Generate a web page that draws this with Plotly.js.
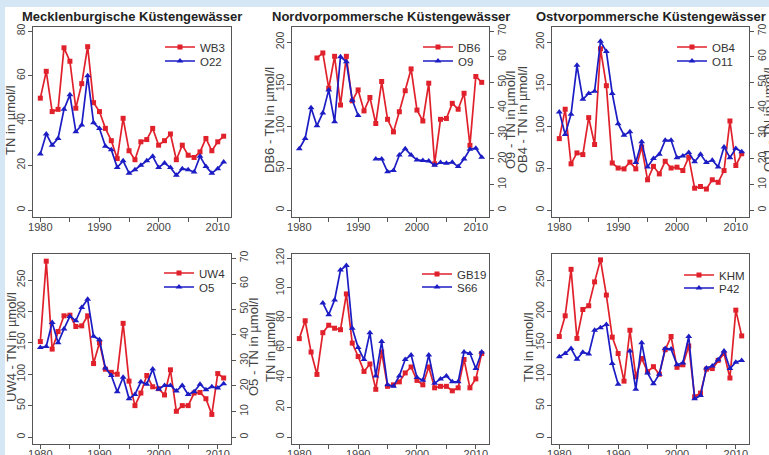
<!DOCTYPE html>
<html>
<head>
<meta charset="utf-8">
<script src="https://cdn.plot.ly/plotly-3.0.1.min.js"></script>
<style>html,body{margin:0;padding:0;background:#fff;}#chart{width:769px;height:455px;}</style>
</head>
<body>
<div id="chart"></div>
<script>
const YEARS = [1980,1981,1982,1983,1984,1985,1986,1987,1988,1989,1990,1991,1992,1993,1994,1995,1996,1997,1998,1999,2000,2001,2002,2003,2004,2005,2006,2007,2008,2009,2010,2011];
const XTICKS = [1980,1985,1990,1995,2000,2005,2010];
const XTICKTEXT = ['1980','','1990','','2000','','2010'];

const PANEL_TITLES = ['Mecklenburgische Küstengewässer','Nordvorpommersche Küstengewässer','Ostvorpommersche Küstengewässer'];

// Panel 1
const WB3 = [50,62,44,45,72.5,66.5,45.5,56.5,73,48,44,36.5,31,23,41,26.5,22.5,30.5,31.5,36.5,29,31,34,22.5,29,24.5,23.5,26,32,26.5,30.5,33];
const O22 = [25,34,29,32,45,51.5,35,38,60,39,36.5,28.5,27,19,22,16.5,18,20,22,24,19,21,19,15.5,18.5,18,17,24,19.5,16.5,18.5,21.5];
// Panel 2
const DB6 = [null,null,null,181,187,145,183,125,183,130,143,118,134,103,153,108,93,117,142,168,119,106,151,55,108,109,127,120,139,77,159,152];
const O9  = [24,28,40,33,38,47,34.5,60,58,43,37,null,null,20,20,15,15.5,21.5,24,21.5,19.6,19.4,19.2,17.5,18.6,18.3,18.7,17,20,23.8,24.2,20.7];
// Panel 3
const OB4 = [85,120,55,68,66,110,78,192,148,56,50,49,57,49,75,36,52,43,58,50,51,47,63,26,28,25,36,33,47,106,53,67];
const O11 = [38.4,29.6,37.5,56.6,43.3,45.6,46.5,66,62,45.6,33.8,29.3,30.6,18.6,26.7,16.9,20.2,21.8,27.3,27.3,20.5,21.2,22.5,18.9,21.8,18.6,19.5,16.9,24.7,20.5,24.1,22.8];
// Panel 4
const UW4 = [152,280,140,168,193,194,176,177,193,117,150,108,103,100,181,89,50,70,98,80,77,67,107,41,50,50,70,71,61,36,101,94];
const O5  = [35,35.4,44.8,36.9,42.3,47.2,45.5,50.7,53.9,39.4,38.1,27,24.1,17.7,23.4,15,16.7,21.6,20.7,26.6,18.7,20.2,20.2,18,20.2,16.7,17.7,20.7,18.5,19.7,19.2,20.9];
// Panel 5
const GB19 = [66,78,57,42,70,75,73,72,96,63,54,44,49,32,57,34,35,37,43,47,38,35,47,33,34,34,31,33,52,33,39,56];
const S66  = [null,null,null,null,90,82,92,112,115,73,60,52,70,41,64,35,34,41,52,55,40,38,55,36,39,41,37,37,57,56,46,57];
// Panel 6
const KHM = [160,193,267,157,203,209,247,282,226,159,133,89,170,96,125,104,112,100,139,160,111,115,145,64,70,108,109,122,133,94,202,161];
const P42 = [128,133,141,124,135,132,170,174,179,117,84,null,137,76,150,102,85,100,141,140,115,118,160,61,66,110,113,123,137,109,119,122];

const RED = '#e0202a', BLUE = '#1c1cc4';
const W = 769, H = 455;
const px = v => v / W, py = v => 1 - v / H;

const cols = [[33,231],[292,489],[552,749]];
const rows = [[27,217],[254,444]];

const FONT = 'Liberation Sans, Arial, sans-serif';
const traces = [];
const layout = {
  width: W, height: H, margin: {l:0,r:0,t:0,b:0},
  paper_bgcolor: '#fff', plot_bgcolor: '#fff', showlegend: true,
  font: {family: FONT, color: '#444', size: 11},
  shapes: [
    {type:'rect', xref:'paper', yref:'paper', x0:0, x1:px(5), y0:0, y1:1, fillcolor:'#d5e6f4', line:{width:0}, layer:'below'},
    {type:'rect', xref:'paper', yref:'paper', x0:0, x1:1, y0:py(7), y1:1, fillcolor:'#d5e6f4', line:{width:0}, layer:'below'}
  ],
  annotations: []
};

function xaxisDef(c, r, yname) {
  return {domain:[px(cols[c][0]), px(cols[c][1])], anchor: yname, range:[1978.76, 2012.24],
    tickmode:'array', tickvals: XTICKS, ticktext: XTICKTEXT, ticks:'outside', ticklen:4, tickcolor:'#555',
    ticklabelstandoff:-4,
    showline:true, mirror:true, linecolor:'#555', linewidth:1, showgrid:false, zeroline:false,
    tickfont:{size:11, color:'#444'}, fixedrange:true};
}
function yaxisDef(r, xname, range, dtick, side, overlay) {
  const a = {domain:[py(rows[r][1]), py(rows[r][0])], anchor: xname, range: range,
    tick0:0, dtick: dtick, ticks:'outside', ticklen:4, tickcolor:'#555', tickangle:-90,
    ticklabelstandoff:-1,
    showline:true, mirror: side === 'right' ? false : true, linecolor:'#555', linewidth:1, showgrid:false, zeroline:false,
    tickfont:{size:10.5, color:'#444'}, side: side || 'left', fixedrange:true};
  if (overlay) a.overlaying = overlay;
  return a;
}
function addLegendItem(idx, trace, xLeft, yCenter) {
  const key = idx === 1 ? 'legend' : 'legend' + idx;
  trace.legend = key;
  layout[key] = {x: px(xLeft), y: py(yCenter), xanchor:'left', yanchor:'middle', bgcolor:'rgba(0,0,0,0)',
    borderwidth:0, font:{size:11.5, color:'#333', family: FONT}, itemclick:false, itemdoubleclick:false};
}
let legendCount = 0;
function series(name, vals, color, symbol, xa, ya, legX, legY) {
  const t = {type:'scatter', mode:'lines+markers', name: name, x: YEARS, y: vals, xaxis: xa, yaxis: ya,
    line:{color: color, width:1.7}, marker:{color: color, size: symbol==='square'?5:6, symbol: symbol}, connectgaps:false};
  legendCount++;
  addLegendItem(legendCount, t, legX, legY);
  traces.push(t);
}

// Panel 1
layout.xaxis = xaxisDef(0,0,'y');
layout.yaxis = yaxisDef(0,'x',[-3.1,81.8],20);
series('WB3', WB3, RED, 'square', 'x', 'y', 160, 47);
series('O22', O22, BLUE, 'triangle-up', 'x', 'y', 160, 61);
// Panel 2
layout.xaxis2 = xaxisDef(1,0,'y2');
layout.yaxis2 = yaxisDef(0,'x2',[-8.3,217.9],50);
layout.yaxis3 = yaxisDef(0,'x2',[-2.7,71.6],10,'right','y2');
series('DB6', DB6, RED, 'square', 'x2', 'y2', 418, 47);
series('O9', O9, BLUE, 'triangle-up', 'x2', 'y3', 418, 61);
// Panel 3
layout.xaxis3 = xaxisDef(2,0,'y4');
layout.yaxis4 = yaxisDef(0,'x3',[-8.3,217.9],50);
layout.yaxis5 = yaxisDef(0,'x3',[-2.7,71.6],10,'right','y4');
series('OB4', OB4, RED, 'square', 'x3', 'y4', 672, 47);
series('O11', O11, BLUE, 'triangle-up', 'x3', 'y5', 672, 61);
// Panel 4
layout.xaxis4 = xaxisDef(0,1,'y6');
layout.yaxis6 = yaxisDef(1,'x4',[-11.1,291.4],50);
layout.yaxis7 = yaxisDef(1,'x4',[-2.7,71.6],10,'right','y6');
series('UW4', UW4, RED, 'square', 'x4', 'y6', 159, 273);
series('O5', O5, BLUE, 'triangle-up', 'x4', 'y7', 159, 287);
// Panel 5
layout.xaxis5 = xaxisDef(1,1,'y8');
layout.yaxis8 = yaxisDef(1,'x5',[-4.7,122.8],20);
series('GB19', GB19, RED, 'square', 'x5', 'y8', 417, 274);
series('S66', S66, BLUE, 'triangle-up', 'x5', 'y8', 417, 287);
// Panel 6
layout.xaxis6 = xaxisDef(2,1,'y9');
layout.yaxis9 = yaxisDef(1,'x6',[-11.1,291.4],50);
series('KHM', KHM, RED, 'square', 'x6', 'y9', 679, 275);
series('P42', P42, BLUE, 'triangle-up', 'x6', 'y9', 679, 288);

// Panel titles
PANEL_TITLES.forEach((t, i) => {
  layout.annotations.push({text: '<b>' + t + '</b>', xref:'paper', yref:'paper', x: px((cols[i][0]+cols[i][1])/2), y: py(17),
    xanchor:'center', yanchor:'middle', showarrow:false, font:{size:13, color:'#222', family: FONT}});
});
// Axis titles
const YTITLES = [
  {t:'TN in µmol/l', x:11, r:0}, {t:'DB6 - TN in µmol/l', x:270, r:0}, {t:'O9 - TN in µmol/l', x:511, r:0},
  {t:'OB4 - TN in µmol/l', x:523, r:0}, {t:'O11 - TN in µmol/l', x:769, r:0},
  {t:'UW4 - TN in µmol/l', x:11, r:1}, {t:'O5 - TN in µmol/l', x:253, r:1},
  {t:'TN in µmol/l', x:270, r:1}, {t:'TN in µmol/l', x:528, r:1}
];
YTITLES.forEach(o => {
  layout.annotations.push({text: o.t, xref:'paper', yref:'paper', x: px(o.x), y: py((rows[o.r][0]+rows[o.r][1])/2 - 2),
    xanchor:'center', yanchor:'middle', textangle:-90, showarrow:false, font:{size:13, color:'#444', family: FONT}});
});

Plotly.newPlot('chart', traces, layout, {staticPlot:true, displayModeBar:false});
</script>
</body>
</html>
